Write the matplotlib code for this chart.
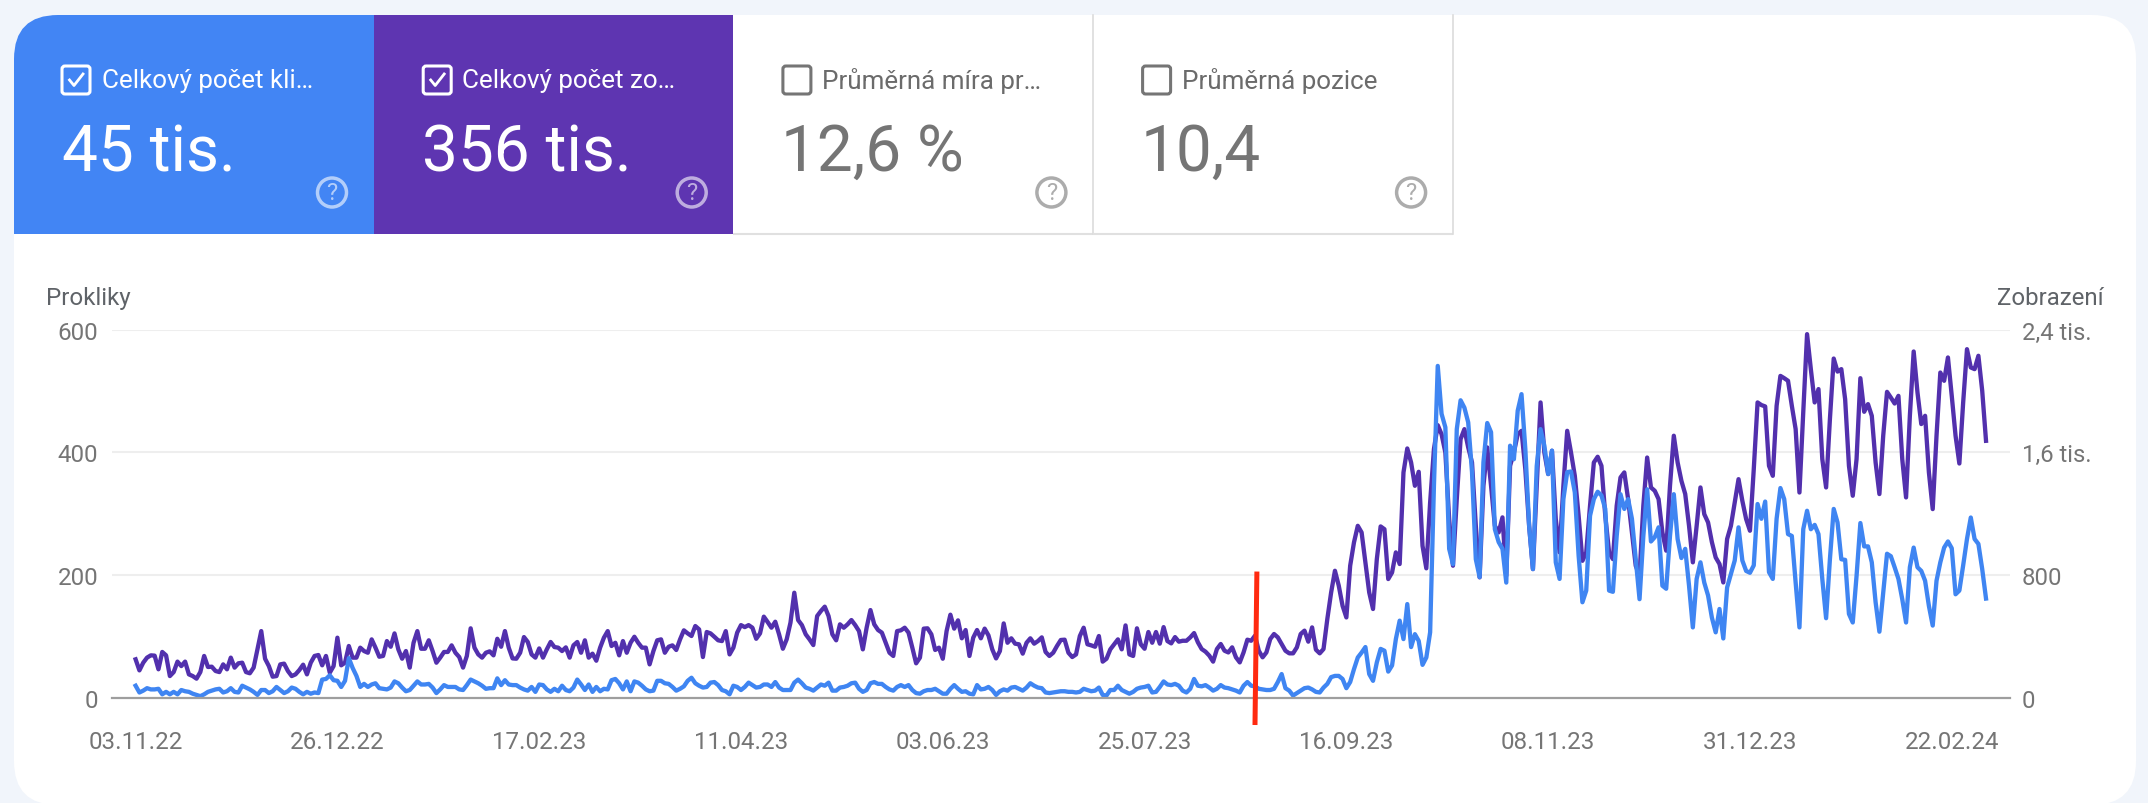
import matplotlib
matplotlib.use("Agg")
import matplotlib.pyplot as plt
import matplotlib.dates as mdates
import pandas as pd
from matplotlib.patches import FancyBboxPatch, Rectangle, Circle

plt.rcParams['font.family'] = ['Roboto', 'DejaVu Sans']

START_DATE = "2022-11-03"
TICK_STEP_DAYS = 53

clicks = [
    20, 9, 12, 16, 14, 14, 15, 6, 10, 6, 10, 6, 13, 11, 10, 7, 5, 3, 6, 10, 12, 14, 15, 9, 11, 16, 10, 9, 20, 17,
    14, 10, 5, 13, 13, 8, 11, 18, 13, 8, 11, 17, 15, 10, 6, 10, 7, 9, 8, 30, 31, 37, 29, 28, 18, 28, 65, 49, 36, 18,
    23, 18, 22, 24, 16, 15, 14, 17, 27, 24, 17, 11, 13, 20, 27, 22, 22, 23, 17, 8, 14, 21, 18, 18, 18, 14, 13, 21, 30, 27,
    24, 20, 15, 16, 16, 32, 21, 29, 22, 21, 21, 17, 14, 12, 18, 10, 22, 21, 14, 10, 15, 11, 20, 13, 11, 17, 30, 22, 13, 22,
    10, 18, 11, 15, 14, 29, 31, 24, 14, 27, 11, 27, 25, 20, 14, 11,
    12, 28, 28, 24, 23, 18, 12, 15, 19, 28, 33, 24, 20, 17, 18, 25, 26, 21, 13, 11, 6, 20, 18, 13, 18, 25, 21, 17, 18, 22,
    22, 18, 26, 17, 13, 13, 13, 25, 30, 24, 17, 15, 12, 17, 22, 20, 25, 12, 12, 17, 18, 20, 24, 25, 15, 10, 13, 24, 26, 23,
    23, 18, 14, 12, 18, 21, 18, 21, 13, 8, 7, 11, 13, 13, 15, 11, 7, 7, 15, 21, 15, 10, 11, 7, 6, 21, 14, 15, 18, 13,
    5, 11, 14, 12, 17, 18, 15, 12, 17, 24, 20, 17, 16, 9, 8, 9, 10, 11, 11, 10, 10, 9, 10, 15, 13, 11, 12, 17, 5, 4,
    13, 13, 20, 13, 10, 7, 10, 15, 17, 18, 20, 9, 10, 18, 27, 22, 21, 23,
    20, 12, 9, 15, 31, 20, 19, 21, 17, 12, 15, 21, 17, 16, 14, 12, 9, 20, 26, 20, 19, 15, 14, 13, 13, 15, 26, 39, 16, 12,
    4, 8, 12, 16, 17, 14, 10, 9, 17, 23, 34, 36, 36, 31, 16, 26, 47, 66, 74, 83, 39, 28, 58, 80, 77, 43, 53, 96, 126, 96,
    153, 83, 104, 93, 54, 66, 107, 346, 541, 463, 441, 243, 218, 438, 485, 473, 449, 368, 226, 197, 384, 448, 433, 275, 254, 243, 188, 411, 389, 468,
    495, 406, 281, 210, 378, 438, 411, 365, 403, 221, 194, 324, 368, 369, 335, 232, 156, 175, 297, 324,
    336, 330, 308, 175, 173, 264, 332, 308, 324, 292, 226, 161, 264, 340, 255, 262, 278, 183, 178, 264, 332, 259, 228, 243, 183, 115, 194, 221, 188, 167,
    131, 107, 145, 97, 180, 202, 224, 278, 224, 207, 204, 216, 316, 292, 320, 205, 194, 292, 342, 324, 267, 264, 188, 115, 275, 305, 275, 282, 267, 194,
    130, 226, 308, 286, 226, 225, 137, 123, 199, 285, 247, 247, 221, 156, 108, 172, 235, 231, 213, 194, 161, 123, 213, 245, 213, 207, 191, 150, 118, 191,
    221, 245, 255, 244, 169, 175, 216, 259, 294, 259, 251, 210, 162,
]

impressions = [
    252, 180, 230, 263, 278, 276, 187, 300, 278, 143, 169, 237, 208, 237, 154, 143, 126, 169, 274, 202, 204, 176, 169, 219, 187, 263, 198, 226, 230, 169,
    161, 198, 317, 436, 256, 208, 139, 143, 219, 224, 176, 143, 154, 182, 217, 154, 230, 274, 280, 213, 274, 165, 208, 393, 213, 230, 339, 263, 263, 328,
    306, 295, 382, 328, 269, 274, 371, 334, 421, 317, 256, 306, 198, 360, 436, 321, 321, 376, 306, 230, 263, 300, 300, 343, 295, 267, 198, 274, 454, 328,
    284, 263, 295, 304, 278, 386, 334, 436, 328, 258, 256, 295, 397, 365, 284, 263, 323, 263, 317, 365, 332, 328, 306, 330, 263, 343, 365, 295, 376, 263,
    289, 243, 328, 393, 436, 339, 360, 278, 371, 295, 360, 399, 360, 328, 328, 219,
    306, 376, 382, 295, 334, 343, 313, 382, 441, 421, 404, 469, 447, 267, 430, 421, 399, 376, 371, 436, 284, 328, 426, 475, 462, 475, 458, 386, 421, 530,
    495, 458, 497, 415, 321, 382, 491, 686, 508, 475, 415, 382, 345, 534, 567, 595, 534, 415, 376, 480, 458, 480, 508, 475, 436, 317, 458, 573, 480, 443,
    426, 360, 295, 274, 436, 441, 458, 426, 328, 226, 263, 452, 454, 415, 313, 328, 256, 436, 543, 452, 506, 389, 443, 274, 393, 443, 389, 452, 408, 317,
    258, 306, 486, 360, 389, 354, 350, 289, 360, 389, 354, 371, 395, 300, 274, 295, 339, 378, 380, 295, 267, 284, 404, 458, 350, 343, 334, 404, 237, 256,
    317, 350, 382, 317, 473, 284, 274, 454, 350, 321, 430, 360, 430, 354, 462, 371, 356, 397,
    367, 373, 373, 395, 423, 363, 319, 302, 276, 237, 319, 352, 308, 297, 330, 265, 232, 297, 380, 373, 406, 308, 265, 297, 384, 417, 395, 352, 308, 291,
    291, 330, 417, 439, 367, 460, 315, 291, 319, 515, 688, 829, 732, 601, 525, 862, 1014, 1122, 1079, 884, 688, 580, 905, 1118, 1100, 775, 818, 949, 873, 1470,
    1626, 1535, 1383, 1474, 992, 845, 1274, 1622, 1778, 1719, 1600, 1166, 862, 1296, 1687, 1752, 1633, 1535, 1122, 786, 1383, 1633, 1383, 1122, 1079, 1177, 797, 1513, 1600, 1719,
    1741, 1492, 1122, 840, 1383, 1926, 1600, 1459, 1611, 1166, 949, 1383, 1741, 1600, 1448, 1188,
    894, 949, 1253, 1535, 1572, 1513, 1188, 949, 905, 1253, 1437, 1470, 1296, 1079, 862, 797, 1253, 1567, 1372, 1350, 1296, 1079, 960, 1383, 1709, 1535, 1415, 1329, 1122, 884,
    1122, 1372, 1198, 1144, 1016, 916, 873, 753, 1036, 1122, 1274, 1426, 1285, 1166, 1090, 1491, 1926, 1909, 1900, 1513, 1448, 1904, 2099, 2084, 2067, 1904, 1752, 1339, 1863, 2371,
    2141, 1926, 2013, 1557, 1372, 1817, 2212, 2127, 2143, 1947, 1513, 1318, 1557, 2084, 1865, 1915, 1839, 1535, 1329, 1709, 1995, 1958, 1919, 1969, 1557, 1307, 1839, 2258, 1991, 1785,
    1839, 1470, 1231, 1709, 2121, 2067, 2219, 1969, 1709, 1528, 1926, 2273, 2154, 2143, 2230, 2002, 1676,
]

tick_labels = ["03.11.22", "26.12.22", "17.02.23", "11.04.23", "03.06.23", "25.07.23",
               "16.09.23", "08.11.23", "31.12.23", "22.02.24"]
left_ticks = [0, 200, 400, 600]
right_ticks = [0, 800, 1600, 2400]
right_tick_labels = ["0", "800", "1,6 tis.", "2,4 tis."]

marker_date = "2023-08-24"
marker_span = [-44, 206]

tile_labels = ["Celkový počet kli…", "Celkový počet zo…", "Průměrná míra pr…", "Průměrná pozice"]
tile_values = ["45 tis.", "356 tis.", "12,6 %", "10,4"]
tile_checked = [True, True, False, False]

W, H = 2148, 804
BLUE, PURPLE = "#4285f4", "#5e35b1"
fig = plt.figure(figsize=(W / 100, H / 100), dpi=100, facecolor="#f1f5fb")

# page layer in pixel coordinates
bg = fig.add_axes([0, 0, 1, 1], zorder=0)
bg.set_xlim(0, W)
bg.set_ylim(H, 0)
bg.axis("off")

card = FancyBboxPatch((14 + 44, 16 + 44), 2122 - 88, 806 - 16 - 88, boxstyle="round,pad=44",
                      fc="white", ec="none", zorder=1)
bg.add_patch(card)

tile_w, tile_top, tile_bot = 359.7, 16, 235
tile_bg = [BLUE, PURPLE, "white", "white"]
for k in range(4):
    x0 = 14 + k * tile_w
    rect = Rectangle((x0, tile_top), tile_w, tile_bot - tile_top, fc=tile_bg[k], ec="none", zorder=2)
    bg.add_patch(rect)
    rect.set_clip_path(card)
    filled = tile_checked[k]
    if not filled:
        bg.plot([x0, x0 + tile_w], [tile_bot, tile_bot], color="#e0e0e0", lw=1.5, zorder=3, solid_capstyle="butt")
        bg.plot([x0 + tile_w, x0 + tile_w], [tile_top, tile_bot], color="#dcdcdc", lw=1.2, zorder=3)
    fg = "white" if filled else "#757575"
    lab = "white" if filled else "#6b6b6b"
    bx = x0 + 48 + (1.5 if k else 0)
    bg.add_patch(FancyBboxPatch((bx + 3, 70), 22, 22, boxstyle="round,pad=3", fc="none", ec=fg, lw=2.2, zorder=4))
    if filled:
        bg.plot([bx + 7.5, bx + 12, bx + 21], [81, 86.5, 75], color="white", lw=2, zorder=5)
    bg.text(x0 + 88.5, 81, tile_labels[k], fontsize=18.7, color=lab, va="center", ha="left", zorder=5)
    bg.text(x0 + 48, 153, tile_values[k], fontsize=46, color=fg, va="center", ha="left", zorder=5)
    hc = "#ffffff" if filled else "#757575"
    bg.add_patch(Circle((x0 + 318, 193.5), 14.5, fc="none", ec=hc, lw=2.5, alpha=0.6, zorder=5))
    bg.text(x0 + 318, 194, "?", fontsize=17, color=hc, alpha=0.6, ha="center", va="center", zorder=6)

# chart
L, R, T0, B0 = 112, 2010, 330.7, 699
ax = fig.add_axes([L / W, 1 - B0 / H, (R - L) / W, (B0 - T0) / H], zorder=2)
ax.patch.set_alpha(0)
ax2 = ax.twinx()
ax2.patch.set_alpha(0)

assert len(clicks) == len(impressions) == 487, (len(clicks), len(impressions))
dates = pd.date_range(START_DATE, periods=len(clicks), freq="D")

first = mdates.date2num(pd.Timestamp(START_DATE))
ax.set_xlim(first - 6.2, first + 492.3)
ax.set_ylim(0, 600)
ax2.set_ylim(0, 2400)

ax.set_zorder(3)
ax2.set_zorder(2)
ax.patch.set_visible(False)

ax2.plot(dates, impressions, color="#5230ad", lw=3.1, solid_joinstyle="round", clip_on=False)
ax.plot(dates, clicks, color="#3f85f2", lw=3.1, solid_joinstyle="round", clip_on=False)

for a in (ax, ax2):
    for s in a.spines.values():
        s.set_visible(False)
ax.spines["bottom"].set_visible(True)
ax.spines["bottom"].set_color("#9e9e9e")
ax.spines["bottom"].set_linewidth(1.6)

ax.set_yticks(left_ticks)
ax.set_yticklabels([str(v) for v in left_ticks])
ax2.set_yticks(right_ticks)
ax2.set_yticklabels(right_tick_labels)
ax.tick_params(axis="y", length=0, labelsize=17.4, labelcolor="#757575", pad=10)
ax2.tick_params(axis="y", length=0, labelsize=17.2, labelcolor="#757575", pad=8.5)
ax2.grid(False)
ax.yaxis.grid(False)
for v in right_ticks[1:]:
    ax2.axhline(v, color="#eeeeee", lw=1.5, zorder=0)

# evenly spaced labels, as in the source chart
ax.set_xticks([pd.Timestamp(START_DATE) + pd.Timedelta(days=TICK_STEP_DAYS * k) for k in range(len(tick_labels))])
ax.set_xticklabels(tick_labels)
ax.tick_params(axis="x", length=0, labelsize=17.4, labelcolor="#757575", pad=23)

md = pd.Timestamp(marker_date)
ax.plot([md, md + pd.Timedelta(hours=12)], marker_span, color="#ff2a10", lw=3.6, clip_on=False,
        solid_capstyle="butt", zorder=10)

bg.text(46, 299, "Prokliky", fontsize=17.4, color="#5f6368", va="center", ha="left", zorder=5)
bg.text(2104, 299, "Zobrazení", fontsize=17.3, color="#5f6368", va="center", ha="right", zorder=5)

fig.savefig("out.png", dpi=100, facecolor=fig.get_facecolor())
